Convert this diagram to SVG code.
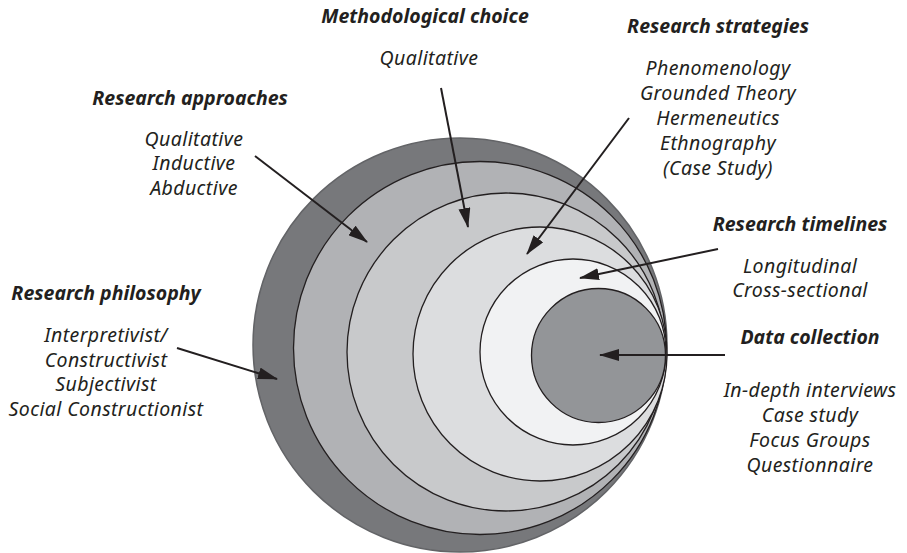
<svg xmlns="http://www.w3.org/2000/svg" width="907" height="553" viewBox="0 0 907 553">
  <style>
    .ring { stroke: #231f20; stroke-width: 1.3; }
    .head { font-family: "Noto Sans", "Liberation Sans", sans-serif; font-weight: bold; font-style: italic; font-size: 19.5px; fill: #231f20; text-anchor: middle; }
    .item { font-family: "Noto Sans", "Liberation Sans", sans-serif; font-style: italic; font-size: 19.5px; letter-spacing: 0.4px; fill: #231f20; text-anchor: middle; }
    .conn { stroke: #231f20; stroke-width: 2; fill: none; marker-end: url(#arrow); }
  </style>
  <defs>
    <marker id="arrow" viewBox="0 0 20 12" markerWidth="20" markerHeight="12" refX="19" refY="6" orient="auto" markerUnits="userSpaceOnUse">
      <path d="M0,0 L20,6 L0,12 Z" fill="#231f20"/>
    </marker>
  </defs>

  <rect width="907" height="553" fill="#ffffff"/>

  <!-- Research philosophy: outermost layer -->
  <g id="research-philosophy">
    <circle cx="460" cy="345" r="207" fill="#77787b" stroke="#636467" stroke-width="1.5"/>
    <text class="head" x="106" y="300">Research philosophy</text>
    <text class="item" x="106" y="342">Interpretivist/</text>
    <text class="item" x="106" y="366.5">Constructivist</text>
    <text class="item" x="106" y="391">Subjectivist</text>
    <text class="item" x="106" y="415.5">Social Constructionist</text>
  </g>

  <!-- Research approaches -->
  <g id="research-approaches">
    <circle class="ring" cx="480" cy="348" r="186.5" fill="#b1b2b5"/>
    <text class="head" x="190" y="105">Research approaches</text>
    <text class="item" x="194" y="145.5">Qualitative</text>
    <text class="item" x="194" y="170">Inductive</text>
    <text class="item" x="194" y="194.5">Abductive</text>
  </g>

  <!-- Methodological choice -->
  <g id="methodological-choice">
    <circle class="ring" cx="506" cy="352" r="159" fill="#c8c9cb"/>
    <text class="head" x="425" y="23">Methodological choice</text>
    <text class="item" x="429" y="65">Qualitative</text>
  </g>

  <!-- Research strategies -->
  <g id="research-strategies">
    <circle class="ring" cx="540" cy="354" r="127" fill="#dcdddf"/>
    <text class="head" x="718" y="33">Research strategies</text>
    <text class="item" x="718" y="75">Phenomenology</text>
    <text class="item" x="718" y="100">Grounded Theory</text>
    <text class="item" x="718" y="125">Hermeneutics</text>
    <text class="item" x="718" y="150">Ethnography</text>
    <text class="item" x="718" y="175">(Case Study)</text>
  </g>

  <!-- Research timelines -->
  <g id="research-timelines">
    <circle class="ring" cx="573" cy="352" r="93" fill="#f1f2f3"/>
    <text class="head" x="800" y="231">Research timelines</text>
    <text class="item" x="800" y="272.5">Longitudinal</text>
    <text class="item" x="800" y="297">Cross-sectional</text>
  </g>

  <!-- Data collection: innermost core -->
  <g id="data-collection">
    <circle class="ring" cx="598.5" cy="355.5" r="67" fill="#939598"/>
    <text class="head" x="810" y="344">Data collection</text>
    <text class="item" x="810" y="397">In-depth interviews</text>
    <text class="item" x="810" y="422">Case study</text>
    <text class="item" x="810" y="447">Focus Groups</text>
    <text class="item" x="810" y="472">Questionnaire</text>
  </g>

  <!-- Pointers from each label to its layer -->
  <g id="connectors">
    <line class="conn" x1="177" y1="348" x2="277" y2="379"/>
    <line class="conn" x1="255" y1="156" x2="367" y2="242"/>
    <line class="conn" x1="441" y1="88" x2="468" y2="227"/>
    <line class="conn" x1="629" y1="118" x2="527" y2="254"/>
    <line class="conn" x1="718" y1="249" x2="580" y2="278"/>
    <line class="conn" x1="725" y1="355" x2="600" y2="355"/>
  </g>
</svg>
